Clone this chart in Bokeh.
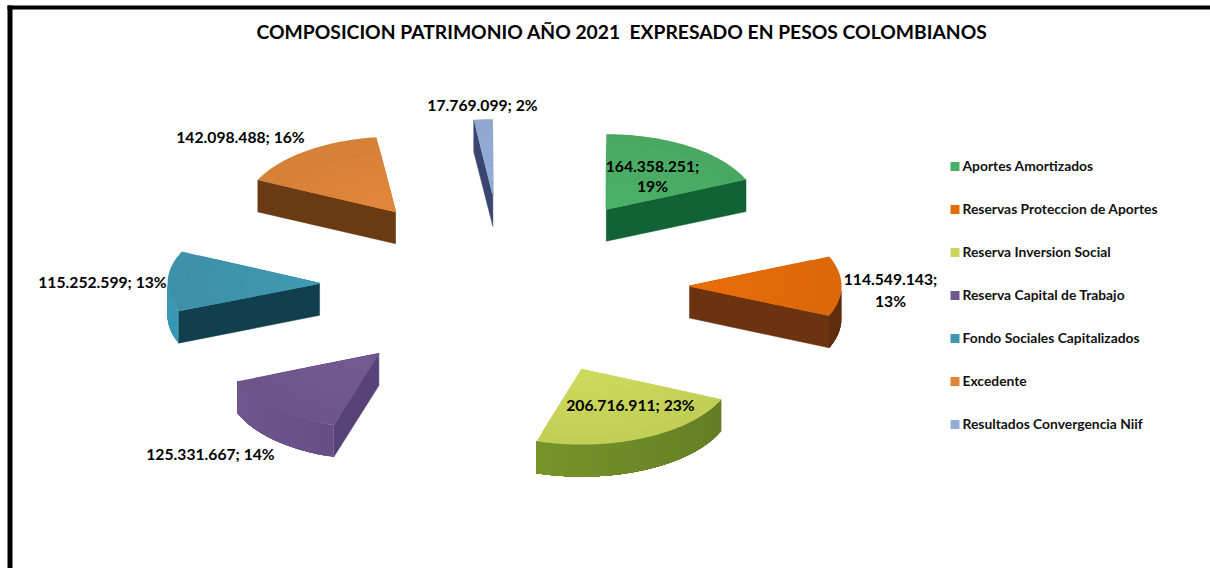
import numpy as np
from bokeh.embed import file_html
from bokeh.models import Range1d
from bokeh.plotting import figure
from bokeh.resources import INLINE
from bokeh.core.properties import value

# ---- data ----
title = "COMPOSICION PATRIMONIO AÑO 2021\u00a0 EXPRESADO EN PESOS COLOMBIANOS"
categories = ["Aportes Amortizados", "Reservas Proteccion de Aportes", "Reserva Inversion Social",
              "Reserva Capital de Trabajo", "Fondo Sociales Capitalizados", "Excedente",
              "Resultados Convergencia Niif"]
values = [164358251, 114549143, 206716911, 125331667, 115252599, 142098488, 17769099]

# ---- style ----
top_colors = ["#4BAE66", "#E46C0A", "#C9D65A", "#71588F", "#3F96AE", "#DD853A", "#95ACD6"]
wall_colors = ["#116234", "#6B3310", "#6B8526", "#584379", "#123F4D", "#6A3B12", "#3A4570"]
rim_colors = ["#146436", "#6B3310", "#6F8A28", "#5F4A7C", "#2F8098", "#6A3B12", "#3A4570"]
FONT = value("Lato")
TXT = "#000000"

CX, CY = 504, 285.5      # pie centre
EX, EY = 185, 92         # explosion
RX, RY = 152, 75         # slice radii
DEPTH = 32

label_xy = [(652, 165), (890, 278), (630, 404), (210, 453), (102, 281), (240, 136), (482, 104)]
wrapped = [True, True, False, False, False, False, False]

p = figure(width=1210, height=568, output_backend="svg", toolbar_location=None,
           x_range=Range1d(0, 1210), y_range=Range1d(568, 0), min_border=0,
           outline_line_color=None, background_fill_color="white",
           border_fill_color="white")
p.axis.visible = False
p.grid.visible = False


def shade(c, f):
    rgb = [int(c[i:i + 2], 16) for i in (1, 3, 5)]
    return "#%02x%02x%02x" % tuple(int(max(0, min(255, v * f))) for v in rgb)


total = sum(values)
edges = np.concatenate([[0], np.cumsum(values)]) / total * 2 * np.pi

for i, (a0, a1) in enumerate(zip(edges[:-1], edges[1:])):
    mid = (a0 + a1) / 2
    ax = CX + EX * np.sin(mid)
    ay = CY - EY * np.cos(mid)
    arc = np.linspace(a0, a1, 60)

    def rim(t, r=1.0):
        return ax + r * RX * np.sin(t), ay - r * RY * np.cos(t)

    # radial walls facing the viewer
    for a, visible in ((a0, np.sin(a0) < 0), (a1, np.sin(a1) > 0)):
        if visible:
            ex, ey = rim(a)
            p.patch([ax, ex, ex, ax], [ay, ey, ey + DEPTH, ay + DEPTH],
                    fill_color=wall_colors[i], line_color=wall_colors[i], line_width=0.5)

    # outer wall on the near half of the ellipse, painted strip over strip to avoid seams
    lo, hi = max(a0, np.pi / 2), min(a1, 3 * np.pi / 2)
    if hi > lo:
        ts = np.linspace(lo, hi, max(2, int((hi - lo) / np.radians(2.5))))
        for t0 in ts[:-1]:
            f = 0.86 + 0.36 * (t0 - np.pi / 2) / np.pi
            seg = np.linspace(t0, hi, 40)
            xs, ys = rim(seg)
            p.patch(np.r_[xs, xs[::-1]], np.r_[ys, ys[::-1] + DEPTH],
                    fill_color=shade(rim_colors[i], f), line_color=None)

    # top face, lighter towards the middle
    for k, r in enumerate(np.linspace(1, 0.15, 8)):
        xs, ys = rim(arc, r)
        col = shade(top_colors[i], 0.97 + 0.05 * k / 7)
        p.patch(np.r_[ax, xs], np.r_[ay, ys], fill_color=col, line_color=col if k else None,
                line_width=0.3)

# frame
p.quad(left=[7, 7], right=[12, 1210], top=[5, 5], bottom=[568, 9], fill_color="black", line_color=None)

# title
p.text([621.5], [31], text=[title], text_font=FONT, text_font_style="bold", text_font_size="19.3px",
       text_align="center", text_baseline="middle", text_color=TXT)

# data labels
pct = [round(v / total * 100) for v in values]
lx, ly, lt = [], [], []
for i, v in enumerate(values):
    num = f"{v:,}".replace(",", ".")
    x, y = label_xy[i]
    if wrapped[i]:
        lx += [x, x]
        ly += [y, y + (20 if i == 0 else 22)]
        lt += [num + ";", f"{pct[i]}%"]
    else:
        lx.append(x)
        ly.append(y)
        lt.append(f"{num}; {pct[i]}%")
p.text(lx, ly, text=lt, text_font=FONT, text_font_style="bold", text_font_size="15.7px",
       text_align="center", text_baseline="middle", text_color=TXT)

# legend
LEG_Y, LEG_STEP = 166, 43
ly = [LEG_Y + LEG_STEP * i for i in range(len(categories))]
p.quad(left=[950] * 7, right=[959] * 7, top=[y - 4.5 for y in ly], bottom=[y + 4.5 for y in ly],
       fill_color=top_colors, line_color=None)
p.text([962] * 7, [y - 1 for y in ly], text=categories, text_font=FONT, text_font_style="bold",
       text_font_size="13.85px", text_align="left", text_baseline="middle", text_color="#111111")

open("out.html", "w").write(file_html(p, INLINE))
